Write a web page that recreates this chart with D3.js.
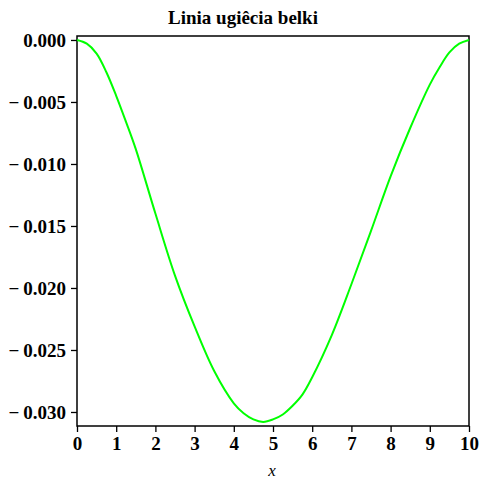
<!DOCTYPE html>
<html><head><meta charset="utf-8">
<script src="https://cdn.jsdelivr.net/npm/d3@7"></script>
<style>body{margin:0;background:#fff}svg{display:block}</style>
</head><body>
<svg id="c" width="486" height="486"></svg>
<script>
const title = "Linia ugiêcia belki";
const xLabel = "x";
const xs = [0, 0.25, 0.5, 0.75, 1, 1.25, 1.5, 2, 2.5, 3, 3.5, 4, 4.25, 4.5, 4.75, 5, 5.25, 5.5, 5.75, 6, 6.5, 7, 7.5, 8, 8.5, 9, 9.25, 9.5, 9.75, 10];
const ys = [0, -0.0003, -0.0011, -0.0026, -0.0045, -0.0066, -0.0088, -0.0140, -0.0190, -0.0231, -0.0267, -0.0293, -0.0301, -0.0306, -0.0308, -0.0306, -0.0302, -0.0295, -0.0286, -0.0272, -0.0238, -0.0197, -0.0154, -0.0110, -0.0071, -0.0036, -0.0022, -0.0010, -0.0003, 0];
const xTicks = [0,1,2,3,4,5,6,7,8,9,10];
const yTicks = [0, -0.005, -0.010, -0.015, -0.020, -0.025, -0.030];

const svg = d3.select("#c");
const L = 77, R = 469, T = 36, B = 426;
const x = d3.scaleLinear().domain([0, 10]).range([L, R]);
const y = d3.scaleLinear().domain([-0.03113, 0.00032]).range([B, T]);
const font = "'Liberation Serif','Times New Roman',serif";

svg.append("rect").attr("x", L).attr("y", T).attr("width", R - L).attr("height", B - T)
  .attr("fill", "none").attr("stroke", "#000").attr("stroke-width", 1.5);

const fmt = v => (v < 0 ? "\u2212\u2009" : "") + Math.abs(v).toFixed(3);
const ya = svg.append("g").attr("transform", `translate(${L},0)`)
  .call(d3.axisLeft(y).tickValues(yTicks).tickSize(6).tickPadding(5).tickFormat(fmt));
const xa = svg.append("g").attr("transform", `translate(0,${B})`)
  .call(d3.axisBottom(x).tickValues(xTicks).tickSize(6).tickPadding(5).tickFormat(d3.format("d")));
[ya, xa].forEach(g => {
  g.select(".domain").remove();
  g.selectAll(".tick line").attr("stroke", "#000").attr("stroke-width", 1.3);
  g.selectAll("text").attr("fill", "#000").style("font-family", font)
    .style("font-weight", "bold").style("font-size", "19px");
});

svg.append("path").datum(xs.map((d, i) => [d, ys[i]]))
  .attr("fill", "none").attr("stroke", "#00ff00").attr("stroke-width", 2)
  .attr("d", d3.line().x(d => x(d[0])).y(d => y(d[1])).curve(d3.curveCatmullRom.alpha(0.5)));

svg.append("text").attr("x", 243).attr("y", 24).attr("text-anchor", "middle")
  .style("font-family", font).style("font-weight", "bold").style("font-size", "19px").text(title);
svg.append("text").attr("x", 272).attr("y", 476).attr("text-anchor", "middle")
  .style("font-family", font).style("font-style", "italic").style("font-size", "17px").text(xLabel);
</script>
</body></html>
